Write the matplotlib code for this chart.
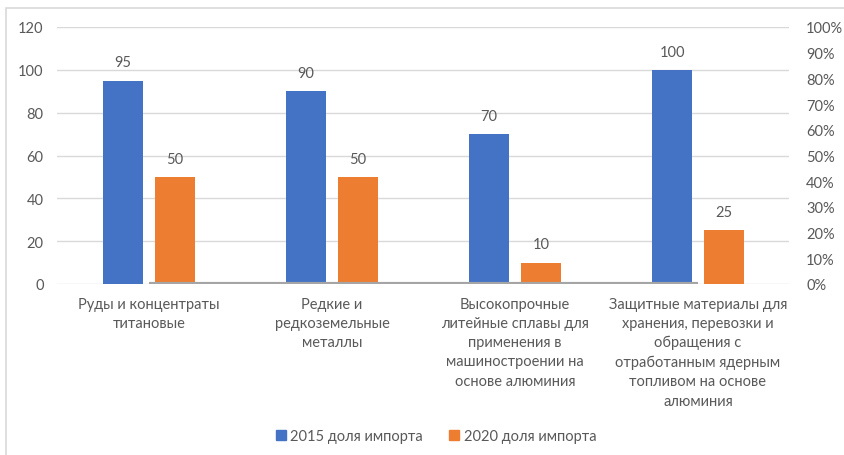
import numpy as np
import matplotlib
matplotlib.use('Agg')
from matplotlib import pyplot as plt
from matplotlib.patches import Rectangle, Patch

categories = ['Руды и концентраты\nтитановые',
              'Редкие и\nредкоземельные\nметаллы',
              'Высокопрочные\nлитейные сплавы для\nприменения в\nмашиностроении на\nоснове алюминия',
              'Защитные материалы для\nхранения, перевозки и\nобращения с\nотработанным ядерным\nтопливом на основе\nалюминия']
share_2015 = [95, 90, 70, 100]
share_2020 = [50, 50, 10, 25]
baseline_series = [0, 0, 0, 0]   # helper line series on the secondary axis
series_names = ['2015 доля импорта', '2020 доля импорта']

blue = '#4472C4'
orange = '#ED7D31'
text_col = '#595959'
grid_col = '#D9D9D9'

plt.rcParams['font.family'] = ['Lato', 'DejaVu Sans']
plt.rcParams['font.size'] = 10.5

W, H = 845, 456
fig = plt.figure(figsize=(W / 100, H / 100), dpi=100)

# outer chart border
fig.patches.append(Rectangle((6 / W, -0.1), 1.2, (H - 9) / H + 0.1,
                             transform=fig.transFigure, fill=False,
                             edgecolor='#D9D9D9', linewidth=1.2))

ax = fig.add_axes([57.5 / W, (H - 285) / H, 732 / W, 257 / H])
x = np.arange(len(categories))
bw = 0.219
off = 0.142

b1 = ax.bar(x - off, share_2015, bw, color=blue, zorder=2)
b2 = ax.bar(x + off, share_2020, bw, color=orange, zorder=2)

for bars, vals in ((b1, share_2015), (b2, share_2020)):
    for rect, v in zip(bars, vals):
        ax.annotate(str(v), (rect.get_x() + rect.get_width() / 2, v),
                    xytext=(0, 8), textcoords='offset points',
                    ha='center', va='bottom', color=text_col, fontsize=10.5)

ax.set_xlim(-0.5, 3.5)
ax.set_ylim(0, 120)
ax.set_yticks(np.arange(0, 121, 20))
ax.yaxis.grid(True, color=grid_col, linewidth=1, zorder=0)
ax.set_axisbelow(True)
for s in ax.spines.values():
    s.set_visible(False)
ax.tick_params(axis='y', length=0, pad=10, colors=text_col, labelsize=10.5)
ax.tick_params(axis='x', length=0, pad=9, colors=text_col, labelsize=10.5)
ax.set_xticks(x)
ax.set_xticklabels(categories, linespacing=1.48, va='top')

ax2 = ax.twinx()
ax2.plot(x, baseline_series, color='#A5A5A5', linewidth=3, zorder=3,
         solid_capstyle='butt')
ax2.set_ylim(0, 1)
ax2.set_yticks(np.arange(0, 1.01, 0.1))
ax2.set_yticklabels(['{:d}%'.format(int(round(t * 100))) for t in np.arange(0, 1.01, 0.1)])
for s in ax2.spines.values():
    s.set_visible(False)
ax2.tick_params(axis='y', length=0, pad=12, colors=text_col, labelsize=10.5)

handles = [Patch(color=blue), Patch(color=orange)]
fig.legend(handles, series_names, loc='center', bbox_to_anchor=(436 / W, 1 - 437 / H),
           ncol=2, frameon=False, handlelength=0.7, handleheight=0.7,
           handletextpad=0.3, columnspacing=1.8, labelcolor=text_col, fontsize=10.5)

fig.savefig('out.png', dpi=100)
